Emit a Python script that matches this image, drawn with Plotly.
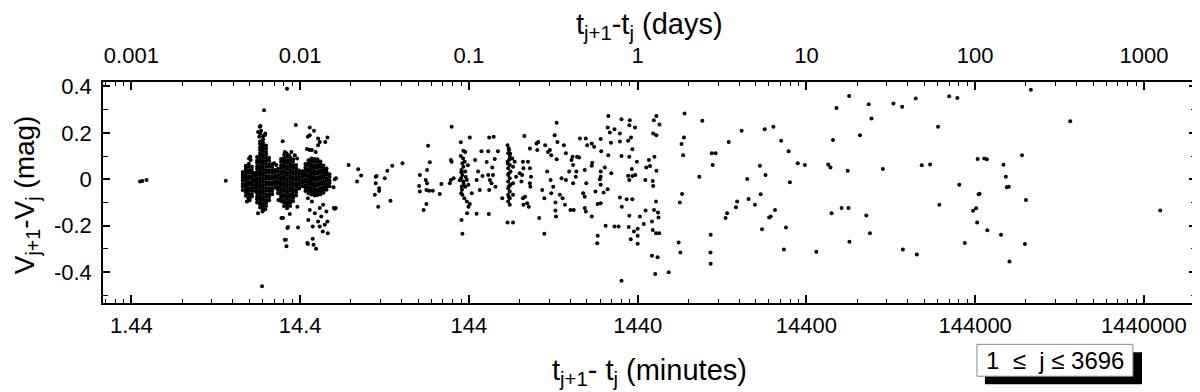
import plotly.graph_objects as go

# Successive-observation differences: (t_{j+1} - t_j in minutes, V_{j+1} - V_j in mag)
SPARSE_POINTS = [
    (1.62, -0.010), (1.67, -0.007), (1.77, -0.003), (5.22, -0.006),
    (8.56, -0.461), (12.04, 0.390), (8.80, 0.297), (8.38, 0.229), (13.57, 0.234), (16.42, 0.223),
    (7.17, 0.090), (7.30, 0.097), (7.33, 0.083), (7.12, -0.082), (7.24, -0.089), (6.96, -0.096),
    (8.30, 0.226), (8.45, 0.209), (8.24, 0.183), (8.11, 0.204), (8.34, 0.197), (8.88, 0.190),
    (8.70, 0.147), (8.95, 0.197), (8.11, -0.146), (8.68, -0.135), (8.96, -0.129), (8.45, -0.118),
    (8.61, -0.139), (10.1, 0.069), (10.4, 0.061), (10.2, 0.040), (10.9, -0.013), (10.7, -0.089),
    (11.35, 0.164), (11.68, 0.118), (11.95, 0.112), (12.38, 0.104), (12.79, 0.118), (13.38, 0.104),
    (13.82, 0.090), (11.42, -0.167), (11.84, -0.260), (11.95, -0.289), (12.21, -0.206), (13.99, -0.208),
    (13.87, -0.118), (10.9, -0.089), (12.1, -0.210), (11.67, -0.260), (11.15, -0.167), (12.5, -0.150),
    (16.0, 0.183), (16.42, 0.190), (17.4, 0.209), (18.4, 0.176), (20.9, 0.180), (18.82, 0.161),
    (20.3, 0.161), (18.4, 0.147), (15.8, 0.130), (16.4, 0.126), (16.9, 0.126), (17.8, 0.118),
    (16.0, -0.082), (16.9, -0.096), (16.42, -0.132), (17.6, -0.146), (18.82, -0.124), (19.7, -0.110),
    (19.2, -0.160), (20.6, -0.139), (20.9, -0.182), (19.6, -0.225), (21.0, -0.232), (18.4, -0.182),
    (17.1, -0.203), (22.8, -0.124), (16.1, -0.175), (16.0, -0.279), (17.1, -0.256), (17.9, -0.299),
    (18.82, -0.203), (20.15, -0.196), (15.9, -0.275), (17.3, -0.282),
    (23.1, 0.000), (23.5, 0.004), (22.7, -0.034), (23.4, -0.124), (27.9, 0.061),
    (31.8, 0.043), (33.1, 0.016), (31.3, -0.010), (23.1, -0.127), (40.9, 0.014), (40.4, -0.017),
    (39.9, -0.067), (42.3, -0.050), (41.8, -0.118), (45.7, 0.004), (47.3, 0.037), (50.6, 0.058),
    (49.4, -0.092), (58.2, 0.069), (40.4, 0.011), (42.3, -0.039),
    (73.7, 0.018), (81.4, 0.040), (82.5, 0.144), (84.5, 0.073), (73.0, -0.029), (73.7, -0.053),
    (79.9, -0.003), (81.4, -0.017), (80.7, -0.046), (83.7, -0.049), (88.0, -0.049), (80.7, -0.106),
    (77.6, -0.132), (96.8, -0.063), (99.0, -0.020), (113.8, 0.226), (112.6, 0.083), (113.8, 0.076),
    (112.6, -0.003), (111.0, -0.017), (117.0, 0.004),
    (129.0, 0.159), (133.5, 0.123), (137.0, 0.118), (145.8, 0.180), (131.8, 0.069), (133.5, 0.054),
    (130.2, 0.040), (137.0, 0.033), (131.8, 0.018), (129.5, 0.004), (133.5, -0.010), (140.0, -0.003),
    (130.5, -0.032), (137.0, -0.032), (143.0, -0.024), (131.8, -0.067), (135.3, -0.082), (129.5, -0.060),
    (140.0, -0.096), (143.0, -0.118), (145.8, -0.106), (140.5, -0.146), (130.2, -0.175), (131.8, -0.235),
    (149.8, -0.060), (133.0, 0.090), (129.0, 0.100), (136.0, 0.075), (131.0, -0.045), (134.0, -0.020),
    (138.0, 0.010), (130.0, 0.030), (127.0, -0.004), (142.0, 0.060),
    (156.7, 0.083), (160.0, -0.003), (160.0, -0.149), (163.4, 0.033), (167.1, -0.046), (173.4, 0.014),
    (171.0, 0.121), (183.5, 0.074), (187.5, 0.121), (190.0, 0.180), (187.5, 0.018), (191.6, -0.003),
    (190.0, -0.046), (189.0, -0.150), (196.0, -0.017), (200.0, 0.018), (202.0, 0.183), (205.0, 0.087),
    (207.0, -0.032), (214.0, 0.121), (198.0, 0.051),
    (244, 0.147), (248, 0.133), (246, 0.112), (251.7, 0.097), (244, 0.076), (251.7, 0.061),
    (246, 0.047), (254, 0.033), (246, 0.018), (251.7, 0.004), (246, -0.010), (254, -0.024),
    (246, -0.039), (251.7, -0.053), (246, -0.067), (251.7, -0.082), (246, -0.096), (251.7, -0.110),
    (244, -0.186), (263, -0.186), (227, -0.082), (260, 0.090), (263, 0.054), (263, -0.017),
    (263, -0.067), (249, 0.125), (250, 0.085), (248, 0.025), (249, -0.030), (248, -0.075),
    (253, 0.110), (245, 0.068),
    (269, 0.076), (274, 0.011), (288, 0.026), (295, -0.010), (298, 0.018), (301, 0.076), (303, 0.047),
    (307, 0.186), (301, -0.082), (310, -0.075), (303, -0.110), (319, -0.103), (323, 0.076), (331, 0.133),
    (331, 0.047), (336, 0.011), (331, -0.017), (333, -0.032), (326, -0.118), (362, 0.154), (371, 0.161),
    (366, 0.126), (376, -0.167), (392, -0.046), (403, -0.235), (403, -0.082), (408, 0.147), (419, 0.033),
    (424, 0.118), (435, 0.126), (443, 0.104), (439, -0.003), (443, -0.060), (455, -0.032), (469, -0.100),
    (469, -0.135), (473, -0.160), (477, 0.086), (482, 0.161), (464, 0.190), (477, 0.243), (498, -0.067),
    (510, 0.004), (517, -0.082), (526, 0.147), (534, -0.110), (541, -0.003), (541, 0.112), (566, 0.033),
    (576, -0.132), (584, 0.083), (592, 0.097), (597, 0.061), (597, -0.017), (602, -0.132), (619, 0.011),
    (624, 0.033), (630, 0.097), (655, 0.176), (648, 0.094), (685, -0.060), (700, -0.075), (710, 0.176),
    (723, 0.147), (700, -0.124), (710, -0.139), (700, 0.040), (715, -0.017),
    (770, 0.154), (795, 0.140), (870, 0.173), (876, 0.121), (965, 0.273), (957, 0.223), (986, 0.202),
    (1050, 0.215), (1130, 0.197), (1155, 0.259), (1295, 0.254), (1285, 0.233), (1390, 0.223),
    (1315, 0.180), (1265, 0.166), (1130, 0.163), (1000, 0.157), (775, 0.071), (770, 0.058), (920, 0.051),
    (870, 0.033), (870, 0.011), (860, 0.000), (870, -0.024), (810, -0.053), (905, -0.057), (957, -0.043),
    (1005, 0.026), (965, 0.103), (1155, 0.100), (1285, 0.097), (1340, 0.129), (1425, 0.076), (1330, 0.044),
    (1265, 0.015), (1285, -0.003), (1340, 0.014), (1395, 0.018), (770, -0.160), (835, -0.106),
    (870, -0.103), (930, -0.200), (1050, -0.203), (1110, -0.203), (1130, -0.079), (1160, -0.118),
    (1240, -0.086), (1340, -0.086), (1285, -0.157), (1275, -0.206), (1310, -0.258), (1370, -0.225),
    (1440, -0.213), (1440, -0.243), (1440, -0.278), (1485, -0.160), (835, -0.243), (830, -0.276),
    (1155, -0.437), (1565, -0.193), (1605, -0.135), (1600, -0.003), (1620, 0.051), (1680, 0.083),
    (1705, 0.057), (1810, 0.097), (1860, 0.037), (1780, 0.197), (1860, 0.190), (1795, 0.254),
    (1860, 0.273), (1940, 0.236), (1770, -0.007), (1780, -0.029), (1850, -0.096), (1800, -0.132),
    (1900, -0.143), (1915, -0.165), (1750, -0.182), (1770, -0.218), (1850, -0.232), (1930, -0.232),
    (1750, -0.329), (1890, -0.336), (1830, -0.408), (2200, -0.400), (2520, -0.272), (2580, -0.315),
    (2560, -0.100), (2640, -0.063), (2680, 0.104), (2620, 0.152), (2710, 0.180), (2730, 0.283),
    (3340, 0.011), (3480, 0.252), (3960, 0.112), (4170, 0.112), (4010, 0.061), (3900, -0.239),
    (3890, -0.315), (3900, -0.364), (4990, 0.161), (4780, -0.167), (4880, -0.146), (5510, -0.120),
    (5600, -0.096), (5950, 0.209), (6420, 0.001), (6540, -0.085), (7140, -0.110), (7640, 0.058),
    (7720, -0.064), (7860, -0.215), (8160, 0.216), (8240, 0.018), (8660, -0.165), (8850, -0.160),
    (9180, 0.226), (9380, -0.132), (10200, 0.166), (10600, -0.303), (10900, -0.208), (11300, 0.121),
    (11500, -0.013), (12800, 0.069), (14100, 0.061), (16500, -0.312), (19400, 0.064), (20000, 0.051),
    (20300, -0.146), (20700, 0.169), (21700, 0.307), (23300, -0.124), (25300, 0.037), (25600, -0.124),
    (25800, 0.359), (25900, -0.269), (29900, 0.190), (32600, -0.156), (33700, 0.323), (34300, -0.232),
    (35000, 0.262), (40900, 0.044), (47200, 0.326), (53200, 0.312), (53700, -0.303), (64000, 0.348),
    (65000, -0.324), (69500, 0.060), (77900, 0.064), (86800, 0.226), (88300, -0.110), (101000, 0.358),
    (113000, 0.350), (116000, -0.024), (125000, -0.275), (140000, -0.136), (146000, -0.125),
    (148000, -0.186), (149000, 0.087), (151000, -0.064), (153000, -0.062), (163000, 0.090),
    (169000, 0.086), (170000, -0.220), (205000, -0.239), (212000, 0.063), (219000, 0.011),
    (222000, -0.034), (228000, -0.032), (230000, -0.354), (273000, 0.104), (284000, -0.279),
    (288000, -0.089), (308000, 0.386), (527000, 0.250), (1800000, -0.135),
]

# Dense groups of short-cadence pairs: (minutes, magnitudes read down the group)
CLUSTER_A = [
    (6.58, [-0.046, -0.031, -0.02, -0.005, 0.008, 0.019, 0.031]),
    (6.86, [-0.071, -0.056, -0.045, -0.03, -0.019, -0.004, 0.009, 0.02, 0.035, 0.045, 0.058]),
    (7.15, [-0.091, -0.076, -0.065, -0.05, -0.039, -0.024, -0.013, 0.002, 0.013, 0.028, 0.039, 0.054, 0.067]),
    (7.45, [-0.074, -0.063, -0.048, -0.037, -0.022, -0.011, 0.004, 0.015, 0.03, 0.041, 0.054]),
    (7.76, [-0.051, -0.036, -0.025, -0.01, 0.001, 0.016, 0.027]),
]
CLUSTER_B = [
    (8.0, [-0.1, -0.086, -0.075, -0.06, -0.049, -0.034, -0.023, -0.008, 0.003, 0.018, 0.029, 0.044,
           0.055, 0.07, 0.081, 0.096]),
    (8.33, [-0.122, -0.108, -0.097, -0.082, -0.071, -0.056, -0.045, -0.03, -0.019, -0.004, 0.007, 0.022,
            0.033, 0.048, 0.059, 0.074, 0.085, 0.1, 0.111, 0.126, 0.137, 0.152, 0.163]),
    (8.68, [-0.128, -0.114, -0.103, -0.088, -0.077, -0.062, -0.051, -0.036, -0.025, -0.01, 0.001, 0.016,
            0.027, 0.042, 0.053, 0.068, 0.079, 0.094, 0.105, 0.12, 0.131, 0.146, 0.157, 0.172, 0.185]),
    (9.05, [-0.115, -0.101, -0.09, -0.075, -0.064, -0.049, -0.038, -0.023, -0.012, 0.003, 0.014, 0.029,
            0.04, 0.055, 0.066, 0.081, 0.092, 0.107, 0.118, 0.133, 0.146]),
    (9.43, [-0.09, -0.076, -0.065, -0.05, -0.039, -0.024, -0.013, 0.002, 0.013, 0.028, 0.039, 0.054,
            0.065, 0.08, 0.093]),
    (9.83, [-0.065, -0.051, -0.04, -0.025, -0.014, 0.001, 0.012, 0.027, 0.038, 0.053, 0.066]),
    (10.25, [-0.036, -0.021, -0.01, 0.005, 0.016, 0.031]),
]
CLUSTER_C = [
    (10.65, [-0.06, -0.046, -0.035, -0.02, -0.009, 0.006, 0.017, 0.032, 0.045]),
    (11.1, [-0.095, -0.081, -0.07, -0.055, -0.044, -0.029, -0.018, -0.003, 0.008, 0.023, 0.034, 0.049,
            0.06, 0.075, 0.087]),
    (11.56, [-0.116, -0.101, -0.09, -0.075, -0.064, -0.049, -0.038, -0.023, -0.012, 0.003, 0.014, 0.029,
             0.04, 0.055, 0.066, 0.081, 0.092, 0.106]),
    (12.05, [-0.125, -0.111, -0.1, -0.085, -0.074, -0.059, -0.048, -0.033, -0.022, -0.007, 0.004, 0.019,
             0.03, 0.045, 0.056, 0.071, 0.082, 0.097]),
    (12.56, [-0.115, -0.101, -0.09, -0.075, -0.064, -0.049, -0.038, -0.023, -0.012, 0.003, 0.014, 0.029,
             0.04, 0.055, 0.066, 0.081, 0.094]),
    (13.08, [-0.095, -0.081, -0.07, -0.055, -0.044, -0.029, -0.018, -0.003, 0.008, 0.023, 0.034, 0.049,
             0.06, 0.075, 0.086]),
    (13.63, [-0.07, -0.056, -0.045, -0.03, -0.019, -0.004, 0.007, 0.022, 0.033, 0.048, 0.061]),
    (14.2, [-0.04, -0.026, -0.015, 0.0, 0.011, 0.026, 0.038]),
]
CLUSTER_D = [
    (14.85, [-0.03, -0.016, -0.005, 0.01, 0.021, 0.035]),
    (15.48, [-0.05, -0.036, -0.025, -0.01, 0.001, 0.016, 0.027, 0.042, 0.053, 0.066]),
    (16.13, [-0.06, -0.046, -0.035, -0.02, -0.009, 0.006, 0.017, 0.032, 0.043, 0.058, 0.069, 0.082]),
    (16.8, [-0.066, -0.052, -0.041, -0.026, -0.015, 0.0, 0.011, 0.026, 0.037, 0.052, 0.063, 0.078, 0.09]),
    (17.5, [-0.07, -0.056, -0.045, -0.03, -0.019, -0.004, 0.007, 0.022, 0.033, 0.048, 0.059, 0.074, 0.087]),
    (18.25, [-0.068, -0.054, -0.043, -0.028, -0.017, -0.002, 0.009, 0.024, 0.035, 0.05, 0.061, 0.076, 0.086]),
    (19.0, [-0.064, -0.05, -0.039, -0.024, -0.013, 0.002, 0.013, 0.028, 0.039, 0.054, 0.065, 0.077]),
    (19.8, [-0.058, -0.044, -0.033, -0.018, -0.007, 0.008, 0.019, 0.034, 0.045, 0.059]),
    (20.65, [-0.045, -0.031, -0.02, -0.005, 0.006, 0.021, 0.032, 0.046]),
    (21.5, [-0.03, -0.016, -0.005, 0.01, 0.022]),
]

BOTTOM_TICKS = [1.44, 14.4, 144, 1440, 14400, 144000, 1440000]
BOTTOM_LABELS = ["1.44", "14.4", "144", "1440", "14400", "144000", "1440000"]
TOP_TICKS = [0.001, 0.01, 0.1, 1, 10, 100, 1000]
TOP_LABELS = ["0.001", "0.01", "0.1", "1", "10", "100", "1000"]
Y_TICKS = [-0.4, -0.2, 0, 0.2, 0.4]
Y_LABELS = ["-0.4", "-0.2", "0", "0.2", "0.4"]
RANGE_TEXT = "1  \u2264  j \u2264 3696"

FONT = "Arial, Liberation Sans, sans-serif"

xs, ys = [], []
for minutes, dv in SPARSE_POINTS:
    xs.append(minutes)
    ys.append(dv)
for cluster in (CLUSTER_A, CLUSTER_B, CLUSTER_C, CLUSTER_D):
    for minutes, column in cluster:
        for dv in column:
            xs.append(minutes)
            ys.append(dv)

# minor ticks at 2..9 times each decade (bottom axis is days*1440, so same positions)
minor_days = [k * 10.0 ** e for e in range(-4, 4) for k in range(2, 10)]
minor_minutes = [d * 1440 for d in minor_days]

fig = go.Figure()
fig.add_scatter(
    x=xs, y=ys, mode="markers",
    marker={"color": "black", "size": 4, "line": {"width": 0}},
    hoverinfo="skip", showlegend=False,
)
# top (days) axis needs a trace to be drawn
fig.add_scatter(x=[], y=[], xaxis="x2", yaxis="y", showlegend=False)

axis_common = dict(
    type="log", showgrid=False, zeroline=False, showline=True, linecolor="black", linewidth=1.5,
    ticks="inside", ticklen=8, tickwidth=1.5, tickcolor="black", automargin=False,
    tickfont={"family": FONT, "size": 22, "color": "black"},
)

# the page body adds an 8px offset, so the figure is 8px smaller than the window
fig.update_layout(
    width=1192, height=384,
    plot_bgcolor="white", paper_bgcolor="white",
    margin={"l": 95, "r": 4, "t": 74, "b": 89},
    font={"family": FONT, "color": "black"},
    xaxis=dict(
        **axis_common,
        range=[-0.0099, 6.4672],
        tickmode="array", tickvals=BOTTOM_TICKS, ticktext=BOTTOM_LABELS,
        mirror=True, ticklabelstandoff=2,
        minor={"ticks": "inside", "ticklen": 4, "tickwidth": 1.2, "tickcolor": "black",
               "tickmode": "array", "tickvals": minor_minutes},
    ),
    xaxis2=dict(
        **axis_common,
        overlaying="x", side="top", anchor="y",
        range=[-3.1683, 3.3088], ticklabelstandoff=8,
        tickmode="array", tickvals=TOP_TICKS, ticktext=TOP_LABELS,
        minor={"ticks": "inside", "ticklen": 4, "tickwidth": 1.2, "tickcolor": "black",
               "tickmode": "array", "tickvals": minor_days},
    ),
    yaxis=dict(
        range=[-0.533, 0.419], automargin=False,
        showgrid=False, zeroline=False, showline=True, linecolor="black", linewidth=1.5,
        mirror="ticks", ticks="inside", ticklen=7, tickwidth=1.5, tickcolor="black",
        tickmode="array", tickvals=Y_TICKS, ticktext=Y_LABELS, ticklabelstandoff=5,
        tickfont={"family": FONT, "size": 22, "color": "black"},
        minor={"ticks": "inside", "ticklen": 5, "tickwidth": 1.2, "tickcolor": "black",
               "tickmode": "array", "tickvals": [-0.5, -0.3, -0.1, 0.1, 0.3]},
    ),
    annotations=[
        dict(text="t<sub>j+1</sub>-t<sub>j</sub> (days)", xref="paper", yref="paper",
             x=0.5, y=1.255, xanchor="center", yanchor="middle", showarrow=False,
             font={"family": FONT, "size": 29, "color": "black"}),
        dict(text="t<sub>j+1</sub>- t<sub>j</sub> (minutes)", xref="paper", yref="paper",
             x=0.5, y=-0.31, xanchor="center", yanchor="middle", showarrow=False,
             font={"family": FONT, "size": 29, "color": "black"}),
        dict(text="V<sub>j+1</sub>-V<sub>j</sub> (mag)", xref="paper", yref="paper",
             x=-0.07, y=0.49, xanchor="center", yanchor="middle", textangle=-90, showarrow=False,
             font={"family": FONT, "size": 28, "color": "black"}),
        dict(text=RANGE_TEXT, xref="paper", yref="paper",
             x=0.871, y=-0.259, xanchor="center", yanchor="middle", showarrow=False,
             font={"family": FONT, "size": 24, "color": "black"}),
    ],
    shapes=[
        dict(type="rect", xref="paper", yref="paper", x0=0.8069, x1=0.9506, y0=-0.3674, y1=-0.2232,
             fillcolor="black", line={"width": 0}, layer="above"),
        dict(type="rect", xref="paper", yref="paper", x0=0.7996, x1=0.9423, y0=-0.3314, y1=-0.1871,
             fillcolor="white", line={"color": "#8a8a8a", "width": 1}, layer="above"),
    ],
)

fig.write_html("out.html")
